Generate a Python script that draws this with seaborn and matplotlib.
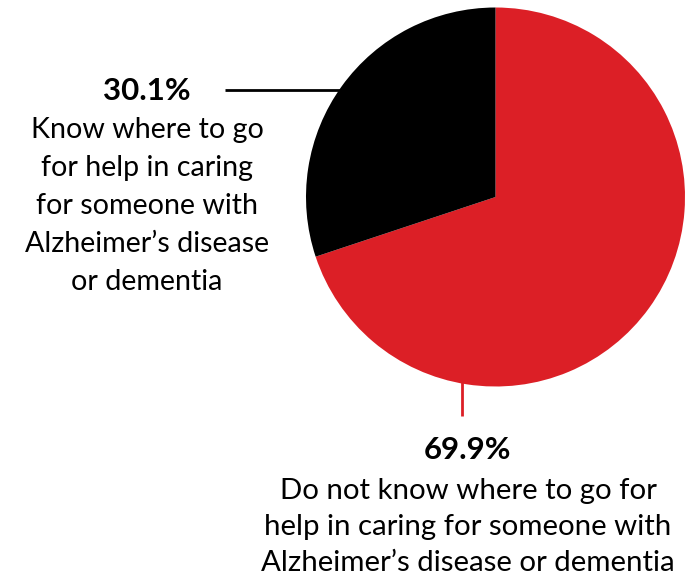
import matplotlib
matplotlib.use("Agg")
import matplotlib.pyplot as plt
import seaborn as sns

# Data
labels = ["Do not know where to go for help", "Know where to go for help"]
values = [69.9, 30.1]
pct_labels = ["69.9%", "30.1%"]
left_lines = ["Know where to go", "for help in caring", "for someone with",
              "Alzheimer\u2019s disease", "or dementia"]
bottom_lines = ["Do not know where to go for", "help in caring for someone with",
                "Alzheimer\u2019s disease or dementia"]

sns.set_theme(style="white")
plt.rcParams['font.family'] = ['Lato', 'DejaVu Sans']
colors = ["#DC1F26", "#000000"]

W, H = 694, 580
fig = plt.figure(figsize=(W / 100, H / 100), dpi=100)
ax = fig.add_axes([0, 0, 1, 1])

def Y(y):
    return H - y

ax.pie(values, colors=colors, startangle=90, counterclock=False,
       center=(495.5, Y(197)), radius=189.5, frame=True,
       wedgeprops=dict(linewidth=0))
ax.set_xlim(0, W)
ax.set_ylim(0, H)
ax.set_aspect("equal")
ax.axis("off")

fs_left = 20.6
fs_bottom = 21.2
fs_pct = 22.5
# left label
ax.text(147, Y(91), pct_labels[1], ha="center", va="center", fontsize=fs_pct, fontweight="bold", color="black")
for i, line in enumerate(left_lines):
    ax.text(147, Y(130 + i * 38), line, ha="center", va="center", fontsize=fs_left, color="black")
ax.plot([225, 340], [Y(90), Y(90)], color="black", lw=2, solid_capstyle="butt")

# bottom label
ax.text(468, Y(450), pct_labels[0], ha="center", va="center", fontsize=fs_pct, fontweight="bold", color="black")
for i, line in enumerate(bottom_lines):
    ax.text(468, Y(491 + i * 36), line, ha="center", va="center", fontsize=fs_bottom, color="black")
ax.plot([462, 462], [Y(380), Y(416)], color=colors[0], lw=2, solid_capstyle="butt")

fig.savefig("out.png", dpi=100)
